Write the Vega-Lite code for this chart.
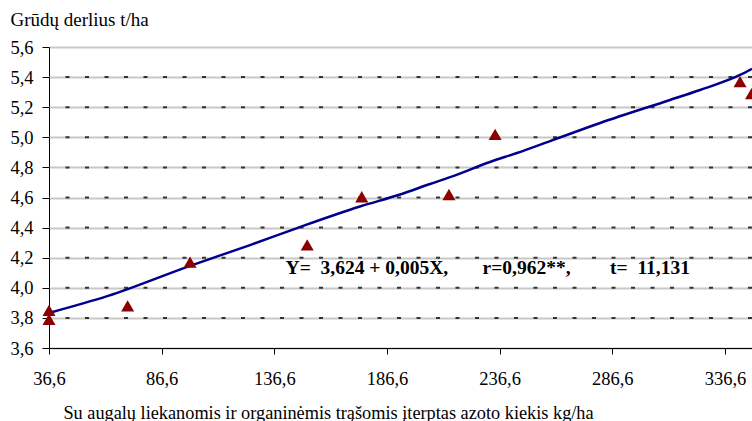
{
  "$schema": "https://vega.github.io/schema/vega-lite/v6.json",
  "width": 703,
  "height": 301,
  "autosize": "none",
  "padding": {"left": 49, "top": 47, "right": 0, "bottom": 73},
  "background": "white",
  "config": {
    "view": {"stroke": null},
    "font": "Liberation Serif",
    "axis": {
      "labelFont": "Liberation Serif", "labelFontSize": 18.5, "labelColor": "black",
      "titleFont": "Liberation Serif", "titleFontWeight": "normal", "titleColor": "black",
      "domainColor": "black", "domainWidth": 1, "tickColor": "black", "tickWidth": 1
    }
  },
  "datasets": {
    "pts": [
      {"x": 36.6, "y": 3.85},
      {"x": 36.6, "y": 3.79},
      {"x": 71.5, "y": 3.88},
      {"x": 99.2, "y": 4.17},
      {"x": 151.2, "y": 4.285},
      {"x": 175.4, "y": 4.605},
      {"x": 214.1, "y": 4.62},
      {"x": 234.6, "y": 5.02},
      {"x": 343.3, "y": 5.37},
      {"x": 348.4, "y": 5.29}
    ],
    "fit": [
      {"x": 36.6, "y": 3.833},
      {"x": 62.8, "y": 3.946},
      {"x": 99.2, "y": 4.146},
      {"x": 125.8, "y": 4.284},
      {"x": 146.7, "y": 4.397},
      {"x": 174.6, "y": 4.54},
      {"x": 192.4, "y": 4.62},
      {"x": 205.7, "y": 4.69},
      {"x": 214.6, "y": 4.735},
      {"x": 232.3, "y": 4.836},
      {"x": 244.3, "y": 4.896},
      {"x": 259.0, "y": 4.975},
      {"x": 281.2, "y": 5.095},
      {"x": 312.2, "y": 5.248},
      {"x": 325.5, "y": 5.314},
      {"x": 343.3, "y": 5.414},
      {"x": 348.6, "y": 5.455}
    ],
    "grid": [
      {"g": 3.8}, {"g": 4.0}, {"g": 4.2}, {"g": 4.4}, {"g": 4.6},
      {"g": 4.8}, {"g": 5.0}, {"g": 5.2}, {"g": 5.4}
    ],
    "labels": [
      {"x": 141.6, "y": 4.13, "label": "Y=\u00a0 3,624 + 0,005X,"},
      {"x": 229.0, "y": 4.13, "label": "r=0,962**,"},
      {"x": 285.6, "y": 4.13, "label": "t=\u00a0 11,131"}
    ]
  },
  "layer": [
    {
      "data": {"name": "grid"},
      "mark": {"type": "rule", "color": "#333333", "strokeWidth": 2, "strokeDash": [4, 15.5]},
      "encoding": {
        "y": {
          "field": "g", "type": "quantitative",
          "scale": {"domain": [3.6, 5.6], "nice": false, "zero": false},
          "axis": {
            "values": [3.6, 3.8, 4.0, 4.2, 4.4, 4.6, 4.8, 5.0, 5.2, 5.4, 5.6],
            "labelExpr": "replace(format(datum.value, '.1f'), '.', ',')",
            "grid": true, "gridColor": "#c8c8c8", "gridWidth": 2,
            "tickSize": 7, "labelPadding": 9, "labelFontSize": 18.5,
            "title": "Grūdų derlius t/ha",
            "titleFontSize": 19,
            "titleAngle": 0, "titleAlign": "left", "titleBaseline": "middle",
            "titleX": -39, "titleY": -28
          }
        }
      }
    },
    {
      "data": {"name": "fit"},
      "mark": {"type": "line", "color": "#00008B", "strokeWidth": 2.5, "interpolate": "monotone"},
      "encoding": {
        "x": {
          "field": "x", "type": "quantitative",
          "scale": {"domain": [36.6, 348.6], "nice": false, "zero": false},
          "axis": {
            "values": [36.6, 86.6, 136.6, 186.6, 236.6, 286.6, 336.6],
            "labelExpr": "replace(format(datum.value, '.1f'), '.', ',')",
            "grid": false,
            "tickSize": 6, "labelPadding": 15, "labelFlush": false, "labelFontSize": 18.5,
            "title": "Su augalų liekanomis ir organinėmis trąšomis įterptas azoto kiekis kg/ha",
            "titleFontSize": 18.3,
            "titleX": 279, "titleY": 65, "titleAlign": "center", "titleBaseline": "middle"
          }
        },
        "y": {
          "field": "y", "type": "quantitative",
          "scale": {"domain": [3.6, 5.6], "nice": false, "zero": false},
          "axis": {
            "values": [3.6, 3.8, 4.0, 4.2, 4.4, 4.6, 4.8, 5.0, 5.2, 5.4, 5.6],
            "labelExpr": "replace(format(datum.value, '.1f'), '.', ',')",
            "grid": true, "gridColor": "#c8c8c8", "gridWidth": 2,
            "tickSize": 7, "labelPadding": 9, "labelFontSize": 18.5,
            "title": "Grūdų derlius t/ha",
            "titleFontSize": 19,
            "titleAngle": 0, "titleAlign": "left", "titleBaseline": "middle",
            "titleX": -39, "titleY": -28
          }
        }
      }
    },
    {
      "data": {"name": "pts"},
      "mark": {"type": "point", "shape": "triangle-up", "filled": true, "color": "#8B0000", "opacity": 1, "size": 170},
      "encoding": {
        "x": {
          "field": "x", "type": "quantitative",
          "scale": {"domain": [36.6, 348.6], "nice": false, "zero": false},
          "axis": {
            "values": [36.6, 86.6, 136.6, 186.6, 236.6, 286.6, 336.6],
            "labelExpr": "replace(format(datum.value, '.1f'), '.', ',')",
            "grid": false,
            "tickSize": 6, "labelPadding": 15, "labelFlush": false, "labelFontSize": 18.5,
            "title": "Su augalų liekanomis ir organinėmis trąšomis įterptas azoto kiekis kg/ha",
            "titleFontSize": 18.3,
            "titleX": 279, "titleY": 65, "titleAlign": "center", "titleBaseline": "middle"
          }
        },
        "y": {
          "field": "y", "type": "quantitative",
          "scale": {"domain": [3.6, 5.6], "nice": false, "zero": false},
          "axis": {
            "values": [3.6, 3.8, 4.0, 4.2, 4.4, 4.6, 4.8, 5.0, 5.2, 5.4, 5.6],
            "labelExpr": "replace(format(datum.value, '.1f'), '.', ',')",
            "grid": true, "gridColor": "#c8c8c8", "gridWidth": 2,
            "tickSize": 7, "labelPadding": 9, "labelFontSize": 18.5,
            "title": "Grūdų derlius t/ha",
            "titleFontSize": 19,
            "titleAngle": 0, "titleAlign": "left", "titleBaseline": "middle",
            "titleX": -39, "titleY": -28
          }
        }
      }
    },
    {
      "data": {"name": "labels"},
      "mark": {"type": "text", "align": "left", "baseline": "middle", "fontWeight": "bold", "fontSize": 19.5, "font": "Liberation Serif", "color": "black"},
      "encoding": {
        "x": {
          "field": "x", "type": "quantitative",
          "scale": {"domain": [36.6, 348.6], "nice": false, "zero": false},
          "axis": {
            "values": [36.6, 86.6, 136.6, 186.6, 236.6, 286.6, 336.6],
            "labelExpr": "replace(format(datum.value, '.1f'), '.', ',')",
            "grid": false,
            "tickSize": 6, "labelPadding": 15, "labelFlush": false, "labelFontSize": 18.5,
            "title": "Su augalų liekanomis ir organinėmis trąšomis įterptas azoto kiekis kg/ha",
            "titleFontSize": 18.3,
            "titleX": 279, "titleY": 65, "titleAlign": "center", "titleBaseline": "middle"
          }
        },
        "y": {
          "field": "y", "type": "quantitative",
          "scale": {"domain": [3.6, 5.6], "nice": false, "zero": false},
          "axis": {
            "values": [3.6, 3.8, 4.0, 4.2, 4.4, 4.6, 4.8, 5.0, 5.2, 5.4, 5.6],
            "labelExpr": "replace(format(datum.value, '.1f'), '.', ',')",
            "grid": true, "gridColor": "#c8c8c8", "gridWidth": 2,
            "tickSize": 7, "labelPadding": 9, "labelFontSize": 18.5,
            "title": "Grūdų derlius t/ha",
            "titleFontSize": 19,
            "titleAngle": 0, "titleAlign": "left", "titleBaseline": "middle",
            "titleX": -39, "titleY": -28
          }
        },
        "text": {"field": "label"}
      }
    }
  ]
}
